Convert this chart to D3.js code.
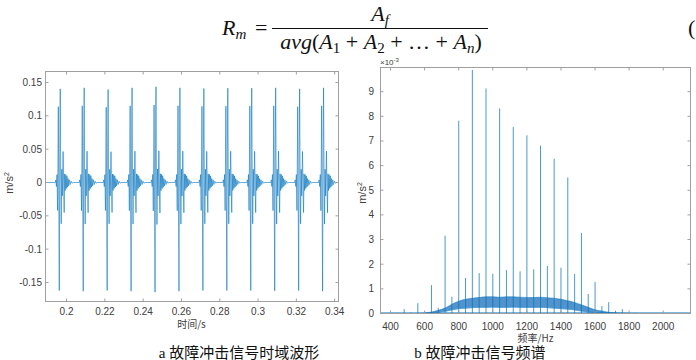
<!DOCTYPE html>
<html><head><meta charset="utf-8">
<script src="https://cdn.jsdelivr.net/npm/d3@7/dist/d3.min.js"></script>
<style>
html,body{margin:0;padding:0;background:#fff;}
svg{display:block;}
</style></head>
<body>
<svg id="c" width="696" height="360"></svg>
<script>
// ---------- DATA ----------
// (a) time-domain impact waveform
const impulseTimes = [0.1967,0.2092,0.2217,0.2342,0.2467,0.2592,0.2717,0.2842,0.2967,0.3092,0.3217,0.3342];
const impulsePeaks = [0.1405,0.142,0.1395,0.142,0.1435,0.142,0.141,0.1415,0.1415,0.142,0.1405,0.142];
const impulseTroughs = [-0.162,-0.163,-0.162,-0.163,-0.1645,-0.163,-0.162,-0.162,-0.162,-0.1625,-0.162,-0.163];
// one impact: offset from main peak (ms) and value (m/s^2)
const shapeOffsetMs = [-2.6,-2.3,-2.0,-1.7,-1.4,-1.0,-0.75,-0.5,-0.25,0,0.25,0.5,0.8,1.1,1.5,1.8,2.05,2.3,2.6,2.9,3.2,3.5,3.8,4.1,4.4,4.8,5.2,5.7,6.2,6.8];
const shapeValue    = [0,0.004,-0.006,0.012,-0.042,0.115,-0.03,-0.162,0.05,0.142,0.01,-0.062,0.02,-0.02,0.047,-0.01,-0.045,0.013,-0.012,0.012,-0.009,0.01,-0.007,0.006,-0.005,0.004,-0.003,0.002,-0.001,0];
const timeTicks = [0.2,0.22,0.24,0.26,0.28,0.3,0.32,0.34];
const timeTickLabels = ["0.2","0.22","0.24","0.26","0.28","0.3","0.32","0.34"];
const accTicks = [-0.15,-0.1,-0.05,0,0.05,0.1,0.15];
const accTickLabels = ["-0.15","-0.1","-0.05","0","0.05","0.1","0.15"];

// (b) spectrum: discrete lines (Hz, x1e-3 m/s^2)
const lineFreq = [400,440,480,520,560,600,640,680,720,760,800,840,880,920,960,1000,1040,1080,1120,1160,1200,1240,1280,1320,1360,1400,1440,1480,1520,1560,1600,1640,1680,1720,1760,1800,1840];
const lineAmp  = [0.07,0.03,0.18,0.04,0.42,0.08,1.15,0.23,3.16,0.68,7.82,1.44,9.88,1.64,9.13,1.61,8.32,1.76,7.57,1.71,7.23,1.79,6.81,1.93,6.28,1.86,5.52,1.60,3.27,0.79,1.28,0.30,0.46,0.11,0.18,0.05,0.03];
// broadband pedestal (x1e-3): lower and upper edge of the dense band
const bandFreq = [560,600,640,680,720,760,800,840,880,920,960,1000,1040,1080,1120,1160,1200,1240,1280,1320,1360,1400,1440,1480,1520,1560,1600,1640,1680,1720,1760,1800,1850];
const bandLow  = [0,0,0.02,0.05,0.09,0.15,0.2,0.22,0.24,0.25,0.25,0.26,0.25,0.25,0.26,0.25,0.25,0.25,0.25,0.24,0.22,0.2,0.18,0.15,0.1,0.06,0.04,0.02,0.01,0,0,0,0];
const bandHigh = [0,0.02,0.06,0.13,0.22,0.38,0.5,0.58,0.62,0.65,0.68,0.68,0.66,0.68,0.68,0.66,0.65,0.65,0.66,0.64,0.62,0.58,0.52,0.45,0.35,0.25,0.15,0.1,0.05,0.03,0.02,0.01,0];
const freqTicks = [400,600,800,1000,1200,1400,1600,1800,2000];
const ampTicks = [0,1,2,3,4,5,6,7,8,9];

// ---------- DRAW ----------
const svg = d3.select("#c");
const BLUE = "#0072BD", FRAME = "#a0a0a0", TXT = "#404040";
const FONT = "'Liberation Sans', Arial, sans-serif";
const CJK = "'Noto Sans CJK SC', sans-serif";

function frame(g, x, y, xticks, yticks, tickLen) {
  const [x0,x1] = x.range(), [y1,y0] = y.range();
  xticks.forEach(t=>{
    const px = x(t);
    g.append("line").attr("x1",px).attr("x2",px).attr("y1",y1).attr("y2",y1-tickLen).attr("stroke",FRAME);
    g.append("line").attr("x1",px).attr("x2",px).attr("y1",y0).attr("y2",y0+tickLen).attr("stroke",FRAME);
  });
  yticks.forEach(t=>{
    const py = y(t);
    g.append("line").attr("x1",x0).attr("x2",x0+tickLen).attr("y1",py).attr("y2",py).attr("stroke",FRAME);
    g.append("line").attr("x1",x1).attr("x2",x1-tickLen).attr("y1",py).attr("y2",py).attr("stroke",FRAME);
  });
  g.append("rect").attr("x",x0).attr("y",y0).attr("width",x1-x0).attr("height",y1-y0)
    .attr("fill","none").attr("stroke",FRAME).attr("stroke-width",1);
}

// ---- Panel a ----
const xa = d3.scaleLinear().domain([0.189,0.342]).range([45.5,338.5]);
const ya = d3.scaleLinear().domain([-0.1785,0.1665]).range([301.5,71.5]);
const ga = svg.append("g");
ga.append("clipPath").attr("id","clipa").append("rect")
  .attr("x",45.5).attr("y",71.5).attr("width",293).attr("height",230);
const wave = [[0.189,0]];
impulseTimes.forEach((t0,k)=>{
  shapeOffsetMs.forEach((o,j)=>{
    const v = shapeValue[j];
    const s = v>0 ? impulsePeaks[k]/0.142 : impulseTroughs[k]/-0.162;
    wave.push([t0+o/1000, v*s]);
  });
});
wave.push([0.342,0]);
ga.append("path").attr("clip-path","url(#clipa)")
  .attr("d", d3.line().x(d=>xa(d[0])).y(d=>ya(d[1]))(wave))
  .attr("fill","none").attr("stroke",BLUE).attr("stroke-width",0.8).attr("stroke-opacity",0.72);
frame(ga, xa, ya, timeTicks, accTicks, 3);
ga.selectAll(".xt").data(timeTicks).join("text")
  .attr("x",d=>xa(d)).attr("y",314.5).attr("text-anchor","middle")
  .attr("font-family",FONT).attr("font-size",10).attr("fill",TXT)
  .text((d,i)=>timeTickLabels[i]);
ga.selectAll(".yt").data(accTicks).join("text")
  .attr("x",42).attr("y",d=>ya(d)+3.5).attr("text-anchor","end")
  .attr("font-family",FONT).attr("font-size",10).attr("fill",TXT)
  .text((d,i)=>accTickLabels[i]);
ga.append("text").attr("x",191.5).attr("y",328).attr("text-anchor","middle")
  .attr("font-family",CJK).attr("font-size",10).attr("fill",TXT).text("时间/s");
const yla = ga.append("text").attr("transform","translate(13,183) rotate(-90)").attr("text-anchor","middle")
  .attr("font-family",FONT).attr("font-size",11).attr("fill",TXT);
yla.append("tspan").text("m/s");
yla.append("tspan").attr("font-size",7).attr("dy",-4).text("2");

// ---- Panel b ----
const xb = d3.scaleLinear().domain([341,2160]).range([380.5,690.5]);
const yb = d3.scaleLinear().domain([0,9.98]).range([313.5,67.5]);
const gb = svg.append("g");
gb.append("clipPath").attr("id","clipb").append("rect")
  .attr("x",380.5).attr("y",67.5).attr("width",310).attr("height",246);
const bandData = bandFreq.map((f,i)=>({f, lo:bandLow[i], hi:bandHigh[i]}));
gb.append("path").attr("clip-path","url(#clipb)")
  .attr("d", d3.area().x(d=>xb(d.f)).y0(d=>yb(d.lo)).y1(d=>yb(d.hi)).curve(d3.curveMonotoneX)(bandData))
  .attr("fill","#2678bd").attr("fill-opacity",0.8).attr("stroke",BLUE).attr("stroke-width",0.6).attr("stroke-opacity",0.8);
gb.append("path").attr("clip-path","url(#clipb)")
  .attr("d", d3.line().x(d=>xb(d.f)).y(d=>yb(d.lo)).curve(d3.curveMonotoneX)(bandData))
  .attr("fill","none").attr("stroke","#5aa0d6").attr("stroke-width",0.8);
gb.selectAll(".sp").data(lineFreq).join("line").attr("clip-path","url(#clipb)")
  .attr("x1",d=>xb(d)).attr("x2",d=>xb(d))
  .attr("y1",yb(0)).attr("y2",(d,i)=>yb(lineAmp[i]))
  .attr("stroke",BLUE).attr("stroke-width",0.9).attr("stroke-opacity",0.8);
gb.append("line").attr("x1",xb(341)).attr("x2",xb(2160)).attr("y1",yb(0)-0.5).attr("y2",yb(0)-0.5)
  .attr("stroke",BLUE).attr("stroke-width",1.2);
frame(gb, xb, yb, freqTicks, ampTicks, 3);
gb.selectAll(".xt").data(freqTicks).join("text")
  .attr("x",d=>xb(d)).attr("y",329.5).attr("text-anchor","middle")
  .attr("font-family",FONT).attr("font-size",10).attr("fill",TXT).text(d=>d);
gb.selectAll(".yt").data(ampTicks).join("text")
  .attr("x",374).attr("y",d=>yb(d)+3.5).attr("text-anchor","end")
  .attr("font-family",FONT).attr("font-size",10).attr("fill",TXT).text(d=>d);
const ex = gb.append("text").attr("x",380).attr("y",65).attr("font-family",FONT).attr("font-size",8).attr("fill",TXT);
ex.append("tspan").text("×10");
ex.append("tspan").attr("font-size",6).attr("dy",-3).text("-3");
gb.append("text").attr("x",535.5).attr("y",342).attr("text-anchor","middle")
  .attr("font-family",CJK).attr("font-size",10).attr("fill",TXT).text("频率/Hz");
const ylb = gb.append("text").attr("transform","translate(366,193) rotate(-90)").attr("text-anchor","middle")
  .attr("font-family",FONT).attr("font-size",11).attr("fill",TXT);
ylb.append("tspan").text("m/s");
ylb.append("tspan").attr("font-size",7).attr("dy",-4).text("2");

// ---- captions ----
const CAP = "'Liberation Serif','Noto Sans CJK SC',serif";
svg.append("text").attr("x",239).attr("y",358).attr("text-anchor","middle")
  .attr("font-family",CAP).attr("font-size",15).attr("fill","#111").text("a 故障冲击信号时域波形");
svg.append("text").attr("x",480).attr("y",358).attr("text-anchor","middle")
  .attr("font-family",CAP).attr("font-size",15).attr("fill","#111").text("b 故障冲击信号频谱");

// ---- formula ----
const MF = "'Liberation Serif','DejaVu Serif',serif";
const eq = svg.append("g").attr("font-family",MF).attr("fill","#111");
const r = eq.append("text").attr("x",222).attr("y",35).attr("font-size",22);
r.append("tspan").attr("font-style","italic").text("R");
r.append("tspan").attr("font-style","italic").attr("font-size",15).attr("dy",4).text("m");
eq.append("text").attr("x",255).attr("y",35).attr("font-size",22).text("=");
eq.append("line").attr("x1",272).attr("x2",488).attr("y1",28.5).attr("y2",28.5).attr("stroke","#111").attr("stroke-width",1.2);
const nu = eq.append("text").attr("x",380).attr("y",21).attr("text-anchor","middle").attr("font-size",22);
nu.append("tspan").attr("font-style","italic").text("A");
nu.append("tspan").attr("font-style","italic").attr("font-size",15).attr("dy",4).text("f");
const de = eq.append("text").attr("x",381).attr("y",49).attr("text-anchor","middle").attr("font-size",22);
de.append("tspan").attr("font-style","italic").text("avg");
de.append("tspan").text("(");
de.append("tspan").attr("font-style","italic").text("A");
de.append("tspan").attr("font-size",15).attr("dy",4).text("1");
de.append("tspan").attr("dy",-4).text(" + ");
de.append("tspan").attr("font-style","italic").text("A");
de.append("tspan").attr("font-size",15).attr("dy",4).text("2");
de.append("tspan").attr("dy",-4).text(" + … + ");
de.append("tspan").attr("font-style","italic").text("A");
de.append("tspan").attr("font-style","italic").attr("font-size",15).attr("dy",4).text("n");
de.append("tspan").attr("dy",-4).text(")");
eq.append("text").attr("x",688).attr("y",35).attr("font-size",22).text("(");
</script>
</body></html>
